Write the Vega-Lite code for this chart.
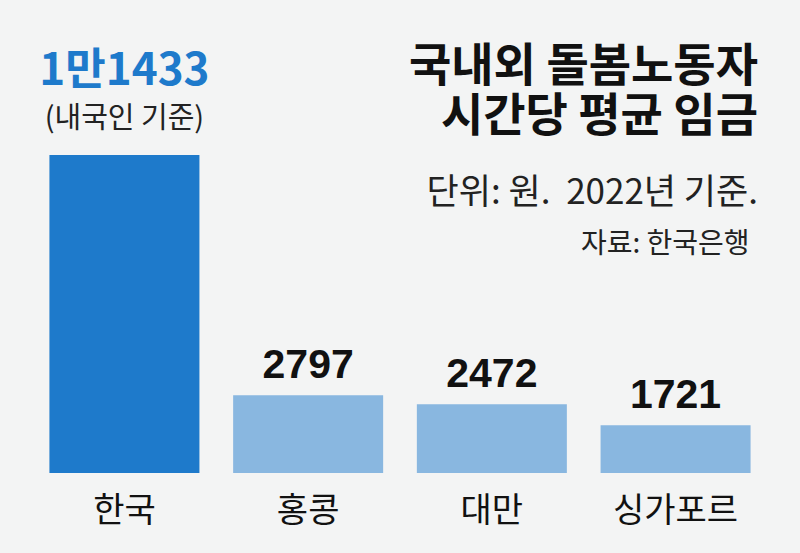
{
  "$schema": "https://vega.github.io/schema/vega-lite/v6.json",
  "width": 800,
  "height": 553,
  "autosize": "none",
  "padding": 0,
  "background": "#f3f4f4",
  "config": {"view": {"stroke": null}, "font": "Noto Sans CJK KR"},
  "title": {
    "text": ["국내외 돌봄노동자", "시간당 평균 임금"],
    "subtitle": "단위: 원.\u00a0\u00a02022년 기준.",
    "orient": "top",
    "anchor": "end",
    "frame": "group",
    "align": "right",
    "offset": -212,
    "dx": -42,
    "font": "Noto Sans CJK KR",
    "fontSize": 46,
    "fontWeight": "bold",
    "lineHeight": 50,
    "color": "#111111",
    "subtitleFont": "Noto Sans CJK KR",
    "subtitleFontSize": 35,
    "subtitleLineHeight": 40,
    "subtitleColor": "#222222",
    "subtitlePadding": 35
  },
  "data": {
    "values": [
      {"country": "한국", "wage": 11433, "label": "1만1433", "note": "(내국인 기준)"},
      {"country": "홍콩", "wage": 2797, "label": "2797", "note": ""},
      {"country": "대만", "wage": 2472, "label": "2472", "note": ""},
      {"country": "싱가포르", "wage": 1721, "label": "1721", "note": ""}
    ]
  },
  "encoding": {
    "x": {
      "field": "country",
      "type": "nominal",
      "sort": null,
      "scale": {"paddingInner": 0.1835, "paddingOuter": 0.269},
      "axis": {
        "title": null,
        "orient": "bottom",
        "offset": -80,
        "domain": false,
        "ticks": false,
        "labelAngle": 0,
        "labelBaseline": "top",
        "labelPadding": 21,
        "labelFont": "Noto Sans CJK KR",
        "labelFontSize": 34,
        "labelColor": "#111111"
      }
    },
    "y": {
      "field": "wage",
      "type": "quantitative",
      "scale": {"domain": [-2876, 17006], "nice": false},
      "axis": null
    }
  },
  "layer": [
    {
      "mark": {"type": "bar"},
      "encoding": {
        "y2": {"datum": 0},
        "color": {
          "condition": {"test": "datum.country === '한국'", "value": "#1e7acb"},
          "value": "#89b7e0"
        }
      }
    },
    {
      "transform": [{"filter": "datum.country !== '한국'"}],
      "mark": {"type": "text", "baseline": "alphabetic", "dy": -17, "fontSize": 41, "fontWeight": "bold", "font": "Liberation Sans, Noto Sans CJK KR", "color": "#111111"},
      "encoding": {"text": {"field": "label"}}
    },
    {
      "transform": [{"filter": "datum.country === '한국'"}],
      "mark": {"type": "text", "baseline": "alphabetic", "dy": -70, "fontSize": 44, "fontWeight": "bold", "font": "Noto Sans CJK KR", "color": "#1e7acb"},
      "encoding": {"text": {"field": "label"}}
    },
    {
      "transform": [{"filter": "datum.country === '한국'"}],
      "mark": {"type": "text", "baseline": "alphabetic", "dy": -27, "fontSize": 29, "font": "Noto Sans CJK KR", "color": "#222222"},
      "encoding": {"text": {"field": "note"}}
    },
    {
      "data": {"values": [{"source": "자료: 한국은행", "country": "싱가포르", "wage": 7910}]},
      "mark": {"type": "text", "align": "right", "baseline": "alphabetic", "dx": 74, "fontSize": 28, "font": "Noto Sans CJK KR", "color": "#222222"},
      "encoding": {"text": {"field": "source"}}
    }
  ]
}
